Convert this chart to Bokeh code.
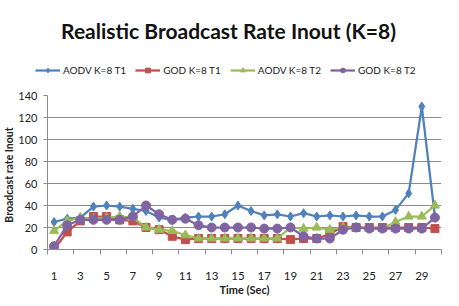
from bokeh.plotting import figure
from bokeh.layouts import column, row
from bokeh.models import FixedTicker, Legend, LegendItem, Range1d, Label
from bokeh.embed import file_html
from bokeh.resources import INLINE

time_sec = list(range(1, 31))
aodv_t1 = [25, 28, 29, 39, 40, 39, 37, 35, 29, 27, 29, 30, 30, 32, 40, 35, 31, 32, 30, 33,
           30, 31, 30, 31, 30, 30, 36, 51, 130, 30]
god_t1 = [0, 16, 26, 30, 30, 27, 26, 20, 18, 12, 9, 10, 10, 10, 10, 10, 10, 10, 9, 10,
          10, 14, 21, 20, 20, 20, 20, 20, 20, 19]
aodv_t2 = [17, 26, 29, 28, 29, 30, 29, 20, 18, 17, 13, 10, 10, 10, 10, 10, 10, 10, 20, 19,
           20, 18, 20, 20, 19, 19, 25, 30, 30, 40]
god_t2 = [3, 22, 27, 27, 27, 27, 30, 40, 32, 27, 28, 22, 20, 20, 20, 20, 19, 19, 20, 12,
          10, 10, 18, 20, 19, 19, 19, 19, 19, 29]
y_ticks = [0, 20, 40, 60, 80, 100, 120, 140]
x_label_ticks = list(range(1, 30, 2))

series_names = ["AODV K=8 T1", "GOD K=8 T1", "AODV K=8 T2", "GOD K=8 T2"]
colors = ["#4F81BD", "#C0504D", "#9BBB59", "#8064A2"]
markers = ["diamond", "square", "triangle", "circle"]
marker_sizes = [9, 8, 9, 9]
all_series = [aodv_t1, god_t1, aodv_t2, god_t2]
FONT = "Lato"
TOP_H = 85

# ---- header figure: title + legend ----
head = figure(width=451, height=TOP_H, output_backend="svg", toolbar_location=None,
              x_range=Range1d(0, 1), y_range=Range1d(-10, -9),
              x_axis_location=None, y_axis_location=None,
              min_border_left=0, min_border_right=0, min_border_top=0, min_border_bottom=0)
head.grid.visible = False
head.outline_line_color = None

title = Label(x=228, y=TOP_H - 30, x_units="screen", y_units="screen",
              text="Realistic Broadcast Rate Inout (K=8)", text_align="center",
              text_baseline="middle", text_font=FONT, text_font_style="bold",
              text_font_size="21px", text_color="#111111")
head.add_layout(title)

items = []
for name, ys, c, m, s in zip(series_names, all_series, colors, markers, marker_sizes):
    ln = head.line(time_sec, ys, line_color=c, line_width=2.25)
    sc = head.scatter(time_sec, ys, marker=m, size=7, fill_color=c, line_color=c)
    items.append(LegendItem(label=name, renderers=[ln, sc]))

legend = Legend(items=items, orientation="horizontal", location=(35, TOP_H - 69 - 7),
                background_fill_alpha=0, border_line_color=None,
                label_text_font=FONT, label_text_font_size="10px", label_text_color="#222222",
                glyph_width=25, glyph_height=12, label_standoff=3, spacing=9,
                padding=0, margin=0, label_height=12)
head.add_layout(legend)

# ---- main chart ----
p = figure(width=451, height=298 - TOP_H, output_backend="svg", toolbar_location=None,
           x_range=Range1d(0.5, 30.5), y_range=Range1d(0, 140),
           min_border_left=45, min_border_right=10, min_border_top=95 - TOP_H, min_border_bottom=45)
p.outline_line_color = None
p.xgrid.grid_line_color = None
p.ygrid.grid_line_color = "#8C8C8C"
p.ygrid.grid_line_width = 1

p.yaxis.ticker = FixedTicker(ticks=y_ticks)
p.yaxis.axis_line_color = "#8C8C8C"
p.yaxis.major_tick_line_color = "#8C8C8C"
p.yaxis.major_tick_out = 4
p.yaxis.major_tick_in = 0
p.yaxis.minor_tick_line_color = None
p.yaxis.major_label_text_font = FONT
p.yaxis.major_label_text_font_size = "11px"
p.yaxis.major_label_text_color = "#222222"
p.yaxis.major_label_standoff = 6
p.yaxis.axis_label = "Broadcast  rate  Inout"
p.yaxis.axis_label_text_font = FONT
p.yaxis.axis_label_text_font_style = "bold"
p.yaxis.axis_label_text_font_size = "10.5px"
p.yaxis.axis_label_text_color = "#222222"
p.yaxis.axis_label_standoff = 0

edges = [0.5 + 2 * k for k in range(16)]
p.xaxis.ticker = FixedTicker(ticks=x_label_ticks, minor_ticks=edges)
p.xaxis.axis_line_color = "#8C8C8C"
p.xaxis.major_tick_line_color = None
p.xaxis.major_tick_out = 0
p.xaxis.major_tick_in = 0
p.xaxis.minor_tick_line_color = "#8C8C8C"
p.xaxis.minor_tick_out = 5
p.xaxis.minor_tick_in = 0
p.xaxis.major_label_text_font = FONT
p.xaxis.major_label_text_font_size = "11.5px"
p.xaxis.major_label_text_color = "#222222"
p.xaxis.major_label_standoff = 17
p.xaxis.axis_label = "Time (Sec)"
p.xaxis.axis_label_text_font = FONT
p.xaxis.axis_label_text_font_style = "bold"
p.xaxis.axis_label_text_font_size = "11px"
p.xaxis.axis_label_text_color = "#222222"
p.xaxis.axis_label_standoff = 0

for ys, c, m, s in zip(all_series, colors, markers, marker_sizes):
    p.line(time_sec, ys, line_color=c, line_width=2.25)
    p.scatter(time_sec, ys, marker=m, size=s, fill_color=c, line_color=c)

layout = column(row(head), row(p), spacing=0)
open("out.html", "w").write(file_html(layout, INLINE))
